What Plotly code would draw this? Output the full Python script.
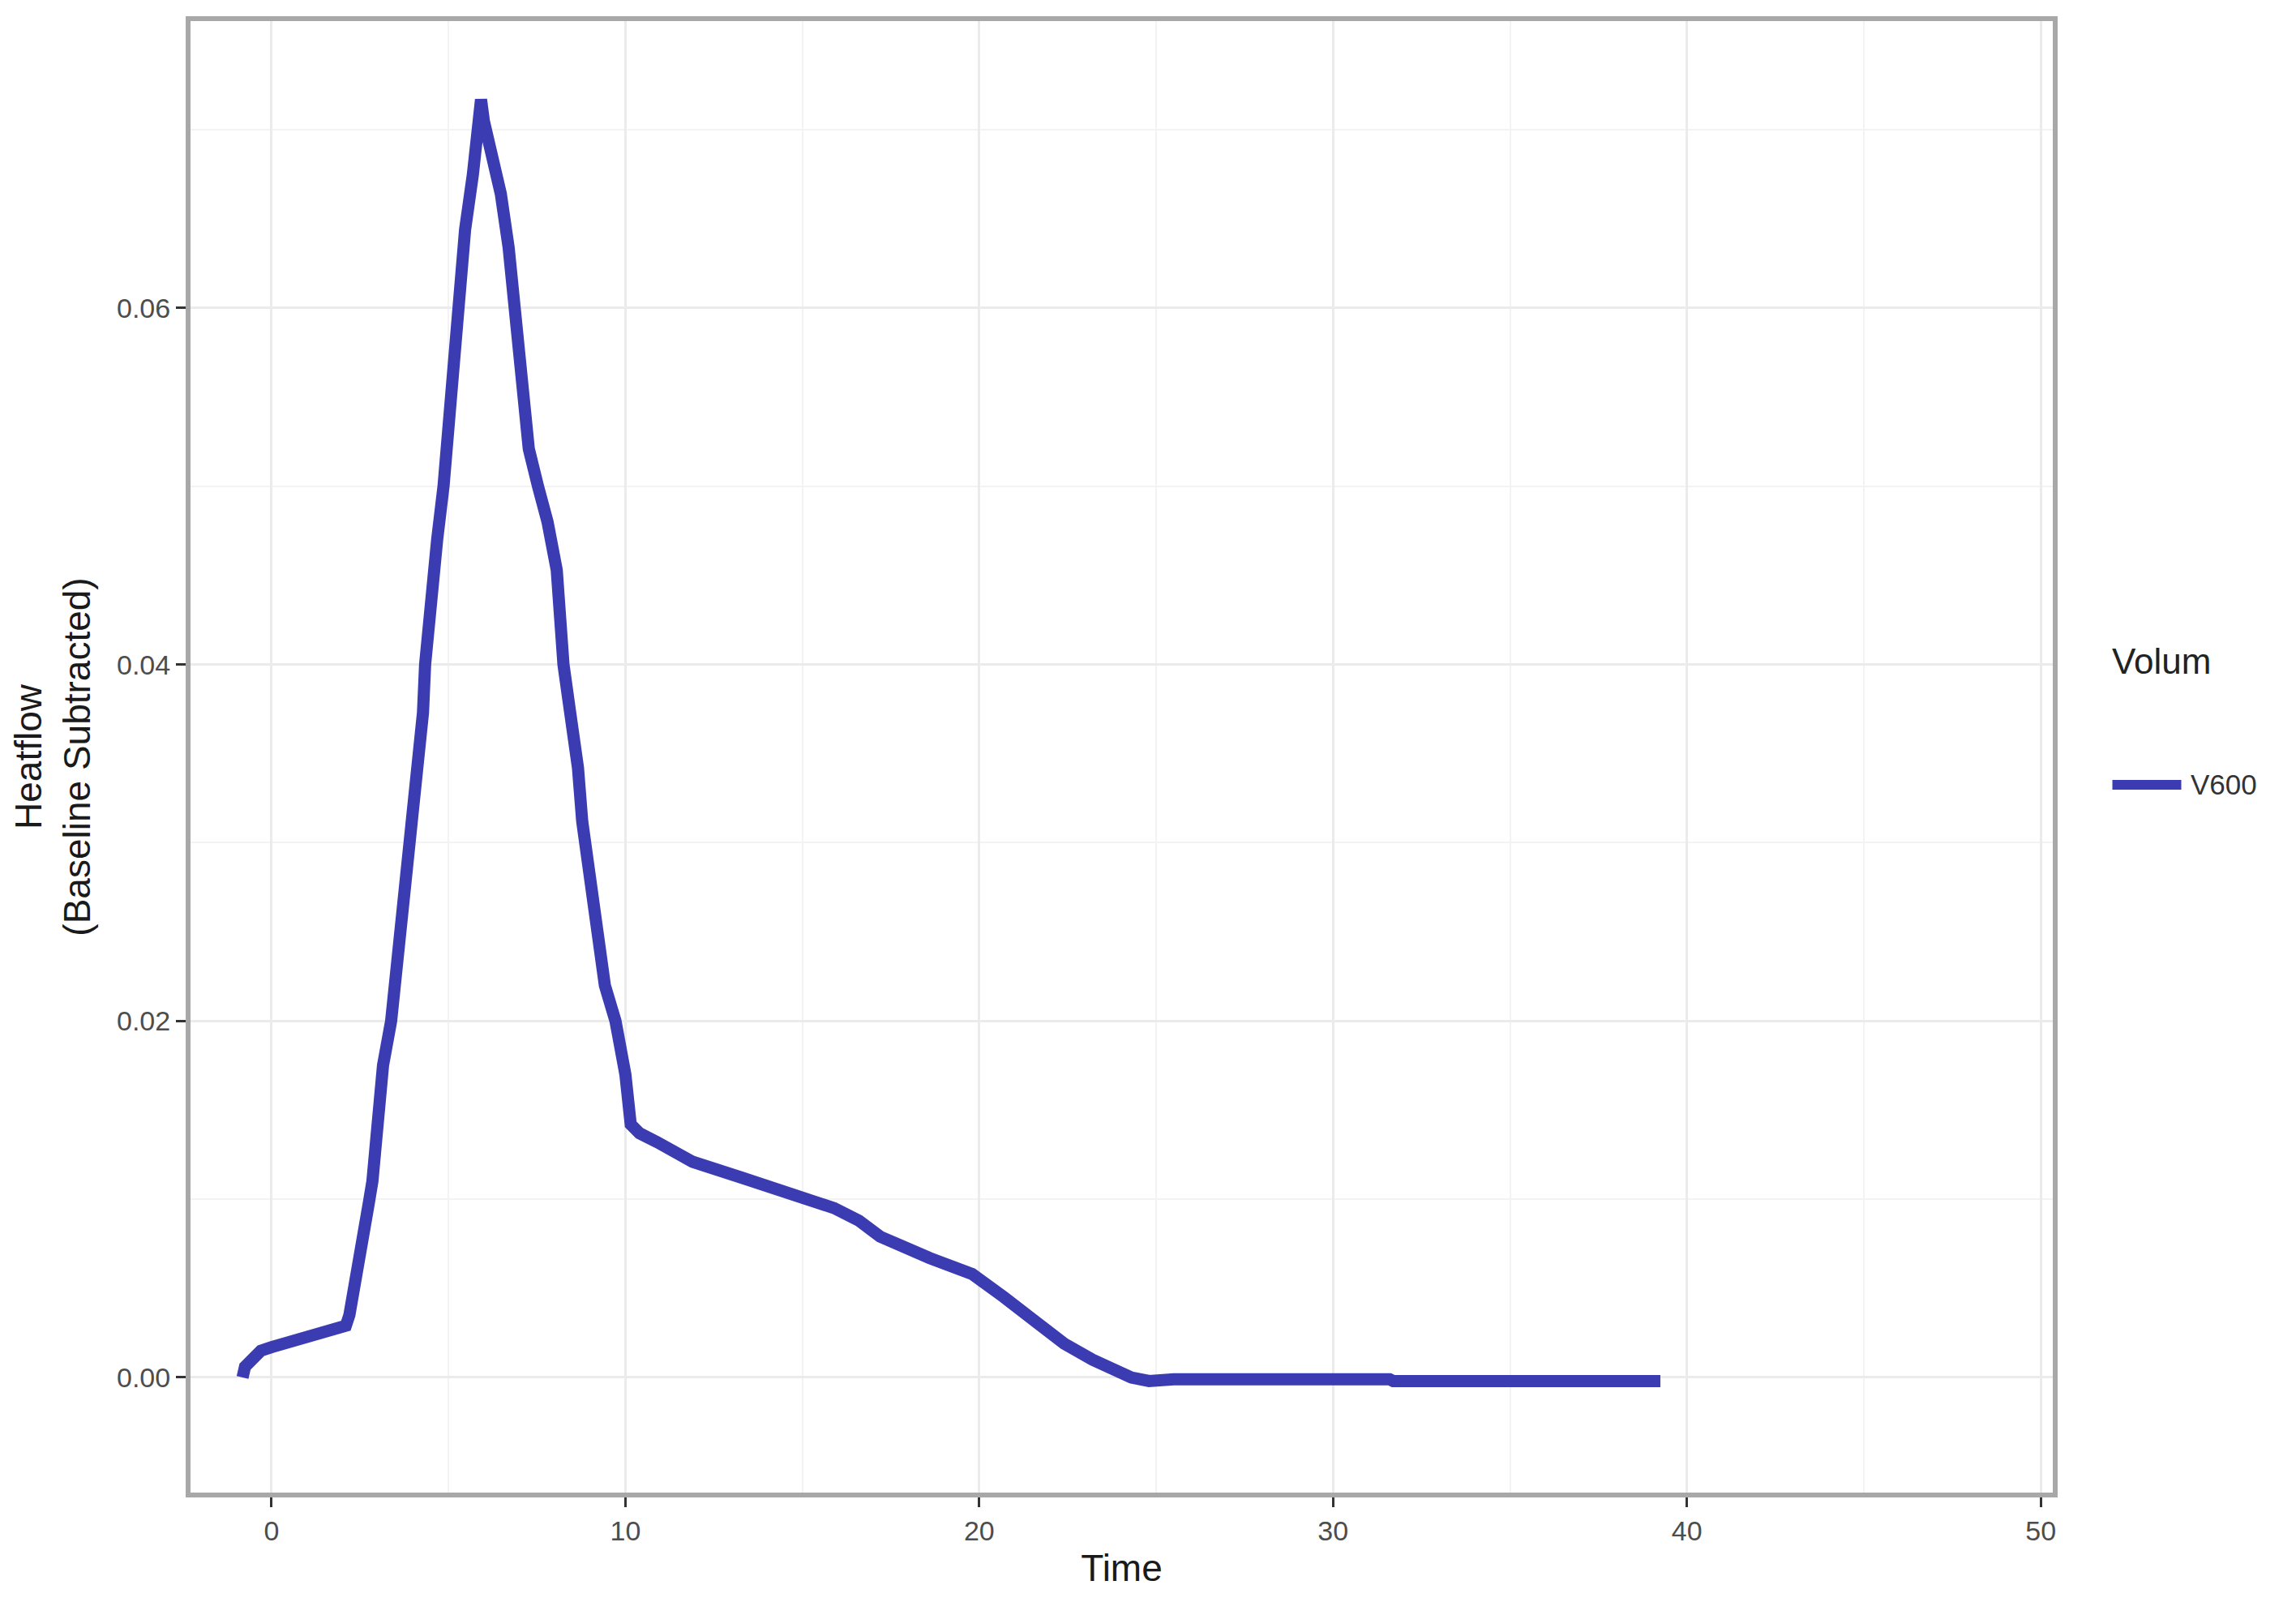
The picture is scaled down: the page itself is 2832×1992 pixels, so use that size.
import plotly.graph_objects as go

# heatflow curve for V600
time = [-0.82, -0.75, -0.5, -0.3, 0.0, 0.5, 1.0, 1.5, 2.1, 2.2,
        2.35, 2.5, 2.65, 2.75, 2.85, 2.95, 3.04, 3.15, 3.38, 3.49,
        3.59, 3.75, 3.98, 4.17, 4.28, 4.34, 4.45, 4.55, 4.68, 4.86,
        4.99, 5.05, 5.16, 5.29, 5.47, 5.69, 5.85, 5.92, 6.0, 6.22,
        6.48, 6.7, 6.87, 7.05, 7.18, 7.27, 7.53, 7.8, 8.06, 8.15,
        8.25, 8.44, 8.66, 8.78, 9.0, 9.19, 9.42, 9.72, 10.0, 10.15,
        10.4, 10.9, 11.9, 13.3, 14.7, 15.9, 16.6, 17.2, 18.6, 19.8,
        20.7, 21.5, 22.0, 22.4, 23.2, 24.3, 24.8, 25.5, 31.6, 31.7, 39.25]
heatflow = [0.0, 0.0006, 0.0011, 0.0015, 0.0017, 0.0020, 0.0023, 0.0025, 0.0029, 0.0035,
            0.0050, 0.0068, 0.0085, 0.0098, 0.0110, 0.0135, 0.0160, 0.0175, 0.0200, 0.0220,
            0.0251, 0.0281, 0.0312, 0.0342, 0.0373, 0.0400, 0.0425, 0.0454, 0.0470, 0.0500,
            0.0531, 0.0552, 0.0582, 0.0613, 0.0644, 0.0675, 0.0705, 0.0717, 0.0705, 0.0685,
            0.0664, 0.0634, 0.0603, 0.0572, 0.0541, 0.0521, 0.0500, 0.0480, 0.0453, 0.0425,
            0.0400, 0.0373, 0.0342, 0.0312, 0.0281, 0.0251, 0.0220, 0.0200, 0.0170, 0.0142,
            0.0137, 0.0132, 0.0121, 0.0112, 0.0103, 0.0095, 0.0088, 0.0079, 0.0067, 0.0058,
            0.0045, 0.0033, 0.0026, 0.0019, 0.0010, 0.0000, -0.0002, -0.0001, -0.0001, -0.0002, -0.0002]

series_name = "V600"
legend_title = "Volum"
x_ticks = [0, 10, 20, 30, 40, 50]
y_ticks = [0.00, 0.02, 0.04, 0.06]

line_col = "#3C3CB2"
font = "Liberation Sans, Arial, sans-serif"

fig = go.Figure()
fig.add_trace(go.Scatter(x=time, y=heatflow, mode="lines", name=series_name,
                         line=dict(color=line_col, width=15),
                         showlegend=False))

# ggplot-like legend with a long key
fig.add_shape(type="line", xref="paper", yref="paper",
              x0=1.032, x1=1.069, y0=0.481, y1=0.481,
              line=dict(color=line_col, width=12))
fig.add_annotation(text=legend_title, xref="paper", yref="paper",
                   x=1.031, y=0.565, xanchor="left", yanchor="middle",
                   showarrow=False, font=dict(family=font, size=44, color="#222222"))
fig.add_annotation(text=series_name, xref="paper", yref="paper",
                   x=1.073, y=0.481, xanchor="left", yanchor="middle",
                   showarrow=False, font=dict(family=font, size=35, color="#333333"))

axis_common = dict(showline=True, linecolor="#a8a8a8", linewidth=6, mirror=True,
                   ticks="outside", ticklen=12, tickwidth=3, tickcolor="#333333",
                   showgrid=True, gridcolor="#ebebeb", gridwidth=3, zeroline=False,
                   tickfont=dict(family=font, size=34, color="#4d4d4d"))

fig.update_layout(
    width=2832, height=1992,
    margin=dict(l=227, r=308, t=18, b=159),
    plot_bgcolor="white", paper_bgcolor="white",
    font=dict(family=font),
    xaxis=dict(range=[-2.29, 50.34], tickvals=x_ticks,
               title=dict(text="Time", font=dict(family=font, size=46, color="#1a1a1a"), standoff=14),
               minor=dict(dtick=5, tick0=0, showgrid=True, gridcolor="#f3f3f3", gridwidth=2, ticks=""),
               **axis_common),
    yaxis=dict(range=[-0.00646, 0.0761], tickvals=y_ticks, tickformat=".2f",
               title=dict(text="Heatflow<br>(Baseline Subtracted)",
                          font=dict(family=font, size=46, color="#1a1a1a"), standoff=20),
               minor=dict(dtick=0.01, tick0=0, showgrid=True, gridcolor="#f3f3f3", gridwidth=2, ticks=""),
               **axis_common),
)

fig.write_html("out.html")
